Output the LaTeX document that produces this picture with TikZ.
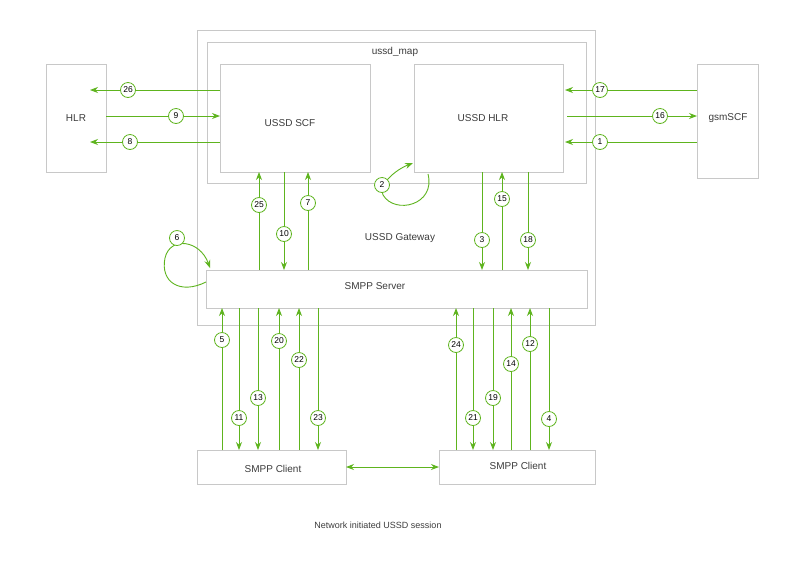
\documentclass[tikz,border=0pt]{standalone}
\usepackage{fontspec}
\setmainfont{Liberation Sans}
\usetikzlibrary{arrows.meta}
\definecolor{gr}{RGB}{94,180,30}
\definecolor{bx}{RGB}{200,200,200}
\definecolor{tx}{RGB}{60,60,60}
\tikzset{
 box/.style={draw=bx,line width=0.9pt,fill=white},
 lbl/.style={text=tx,font=\fontsize{10}{12}\selectfont},
 num/.style={circle,draw=gr,fill=white,line width=0.8pt,inner sep=0pt,minimum size=15pt,font=\fontsize{8.5}{10}\selectfont},
 ar/.style={draw=gr,line width=0.9pt,-{Stealth[length=8pt,width=6pt]}},
}
\begin{document}
\begin{tikzpicture}[x=1pt,y=-1pt]
\useasboundingbox (0,0) rectangle (800,566);
\draw[box] (197,30) rectangle (595,325);
\draw[box] (207,42) rectangle (586,183);
\node[lbl] (map) at (395,52) {ussd\_map};
\draw[box] (220,64) rectangle (370,172);
\node[lbl] at (290,123) {USSD SCF};
\draw[box] (414,64) rectangle (563,172);
\node[lbl] at (483,118) {USSD HLR};
\draw[box] (46,64) rectangle (106,172);
\node[lbl] at (76,118) {HLR};
\draw[box] (697,64) rectangle (758,178);
\node[lbl] at (728,118) {gsmSCF};
\node[lbl] at (400,238) {USSD Gateway};
\draw[box] (206,270) rectangle (587,308);
\node[lbl] at (375,286) {SMPP Server};
\draw[box] (197,450) rectangle (346,484);
\node[lbl] at (273,469) {SMPP Client};
\draw[box] (439,450) rectangle (595,484);
\node[lbl] at (518,466) {SMPP Client};
\node[lbl,font=\fontsize{9}{11}\selectfont] at (378,525) {Network initiated USSD session};
% horizontal
\newcommand\harr[4]{\draw[ar] (#1,#3) -- (#2,#3); \node[num] at (#4,#3) {};}
\draw[ar] (220,90) -- (90,90); \node[num] at (128,90) {26};
\draw[ar] (106,116) -- (220,116); \node[num] at (176,116) {9};
\draw[ar] (220,142) -- (90,142); \node[num] at (130,142) {8};
\draw[ar] (697,90) -- (565,90); \node[num] at (600,90) {17};
\draw[ar] (567,116) -- (697,116); \node[num] at (660,116) {16};
\draw[ar] (697,142) -- (565,142); \node[num] at (600,142) {1};
% upper verticals
\draw[ar] (259,270) -- (259,172); \node[num] at (259,205) {25};
\draw[ar] (284,172) -- (284,270); \node[num] at (284,234) {10};
\draw[ar] (308,270) -- (308,172); \node[num] at (308,203) {7};
\draw[ar] (482,172) -- (482,270); \node[num] at (482,240) {3};
\draw[ar] (502,270) -- (502,172); \node[num] at (502,199) {15};
\draw[ar] (528,172) -- (528,270); \node[num] at (528,240) {18};
% lower verticals
\draw[ar] (222,450) -- (222,308); \node[num] at (222,340) {5};
\draw[ar] (239,308) -- (239,450); \node[num] at (239,418) {11};
\draw[ar] (258,308) -- (258,450); \node[num] at (258,398) {13};
\draw[ar] (279,450) -- (279,308); \node[num] at (279,341) {20};
\draw[ar] (299,450) -- (299,308); \node[num] at (299,360) {22};
\draw[ar] (318,308) -- (318,450); \node[num] at (318,418) {23};
\draw[ar] (456,450) -- (456,308); \node[num] at (456,345) {24};
\draw[ar] (473,308) -- (473,450); \node[num] at (473,418) {21};
\draw[ar] (493,308) -- (493,450); \node[num] at (493,398) {19};
\draw[ar] (511,450) -- (511,308); \node[num] at (511,364) {14};
\draw[ar] (530,450) -- (530,308); \node[num] at (530,344) {12};
\draw[ar] (549,308) -- (549,450); \node[num] at (549,419) {4};
\draw[draw=gr,line width=0.9pt,{Stealth[length=8pt,width=6pt]}-{Stealth[length=8pt,width=6pt]}] (346,467) -- (439,467);
% loops
\draw[ar] (428,174) .. controls (436,205) and (395,215) .. (383,195) .. controls (378,185) and (395,170) .. (413,163);
\node[num] at (382,185) {2};
\draw[ar] (206,282) .. controls (180,295) and (160,282) .. (165,258) .. controls (170,236) and (200,240) .. (210,268);
\node[num] at (177,238) {6};
\end{tikzpicture}
\end{document}
